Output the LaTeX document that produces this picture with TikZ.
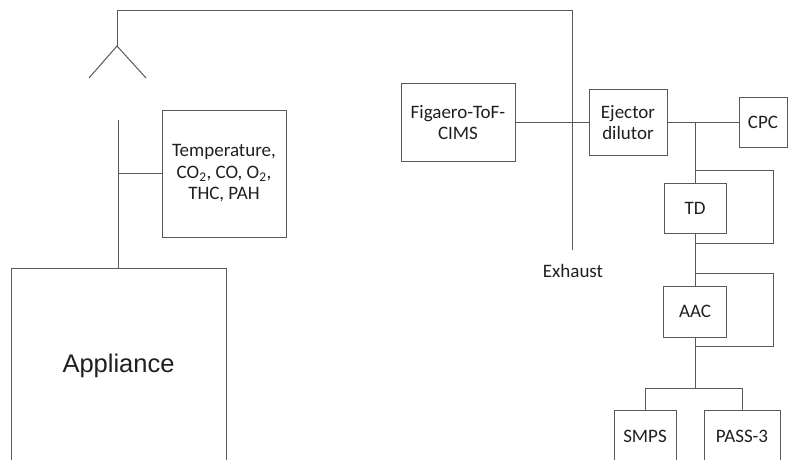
\documentclass[tikz,border=0pt]{standalone}
\usepackage{fontspec}
\setmainfont{Carlito}
\newfontfamily\arialf{Liberation Sans}
\begin{document}
\begin{tikzpicture}[x=1pt,y=-1pt,
  ln/.style={draw=black!65, line width=1pt},
  box/.style={draw=black!65, line width=1pt, inner sep=0pt, align=center, text=black!88,
    font=\fontsize{19}{21.5}\selectfont},
  lbl/.style={inner sep=0pt, text=black!88, font=\fontsize{19}{21.5}\selectfont}]
\useasboundingbox (0,0) rectangle (789,459);
\clip (0,0) rectangle (789,459);
% boxes
\node[box, minimum width=215pt, minimum height=196pt, font=\arialf\fontsize{25.5}{30}\selectfont] (app) at (118.5,366) {Appliance};
\node[box, minimum width=124pt, minimum height=127pt] (temp) at (224,173.5) {Temperature,\\CO\textsubscript{2}, CO, O\textsubscript{2},\\THC, PAH};
\node[box, minimum width=114pt, minimum height=78pt] (fig) at (458,122.5) {Figaero-ToF-\\CIMS};
\node[box, minimum width=78pt, minimum height=66pt] (ej) at (628,122.5) {Ejector\\dilutor};
\node[box, minimum width=48pt, minimum height=50pt] (cpc) at (763,122.5) {CPC};
\node[box, minimum width=62pt, minimum height=50pt] (td) at (695,208) {TD};
\node[box, minimum width=63pt, minimum height=51pt] (aac) at (695,311.5) {AAC};
\node[box, minimum width=62pt, minimum height=52pt] (smps) at (645,436) {SMPS};
\node[box, minimum width=76pt, minimum height=52pt] (pass) at (742,436) {PASS-3};
\node[lbl] (exhlbl) at (573,271) {Exhaust};
% coordinates
\coordinate (probe) at (118.5,120);
\coordinate (apex) at (117,46);
\coordinate (hl) at (89,78);
\coordinate (hr) at (146,78);
\coordinate (duct) at (117,10);
\coordinate (corner) at (572,10);
\coordinate (exh) at (572,250);
\coordinate (b1a) at (695,170);
\coordinate (b1r) at (773,170);
\coordinate (b1s) at (773,243);
\coordinate (b1b) at (695,243);
\coordinate (b2a) at (695,273);
\coordinate (b2r) at (773,273);
\coordinate (b2s) at (773,346);
\coordinate (b2b) at (695,346);
\coordinate (split) at (695,388);
% connectors
\draw[ln] (app.north) -- (probe);
\draw[ln] (temp.west) -- (temp.west -| app.north);
\draw[ln] (hl) -- (apex) -- (hr);
\draw[ln] (apex) -- (duct) -- (corner) -- (exh);
\draw[ln] (fig.east) -- (ej.west);
\draw[ln] (ej.east) -- (cpc.west);
\draw[ln] (ej.east -| td.north) -- (td.north);
\draw[ln] (b1a) -- (b1r) -- (b1s) -- (b1b);
\draw[ln] (td.south) -- (aac.north);
\draw[ln] (b2a) -- (b2r) -- (b2s) -- (b2b);
\draw[ln] (aac.south) -- (split);
\draw[ln] (smps.north) -- (smps.north |- split) -- (pass.north |- split) -- (pass.north);
\end{tikzpicture}
\end{document}
